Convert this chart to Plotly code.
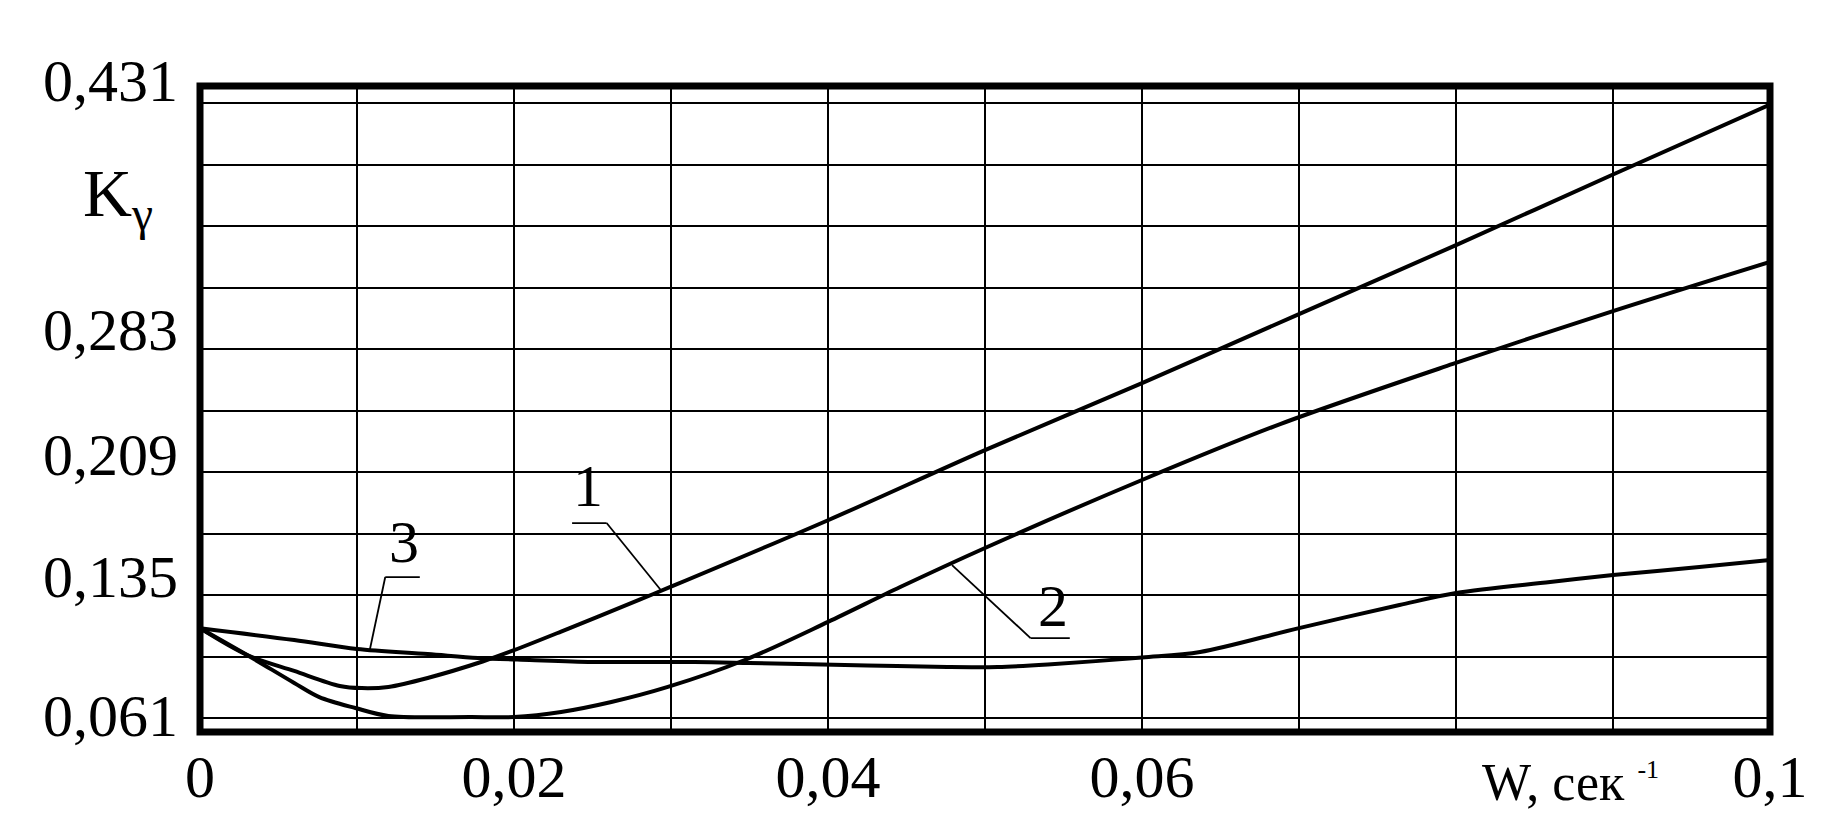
import plotly.graph_objects as go

# ---------------- data ----------------
w1 = [0, 0.003, 0.006, 0.0089, 0.0103, 0.012, 0.0145, 0.018, 0.02, 0.023, 0.028, 0.03,
      0.04, 0.05, 0.06, 0.07, 0.08, 0.09, 0.1]
k1 = [0.115, 0.0989, 0.0893, 0.0803, 0.079, 0.0797, 0.0851, 0.0950, 0.1018, 0.1130, 0.1322, 0.1400,
      0.1800, 0.2222, 0.2625, 0.3040, 0.3455, 0.3880, 0.4300]

w2 = [0, 0.003, 0.006, 0.0076, 0.0099, 0.012, 0.0173, 0.02, 0.023, 0.0262, 0.0298, 0.0347,
      0.04, 0.0446, 0.05, 0.06, 0.0688, 0.0798, 0.0899, 0.1]
k2 = [0.115, 0.0989, 0.0821, 0.0736, 0.067, 0.0622, 0.0616, 0.0616, 0.0646, 0.0706, 0.0797, 0.0959,
      0.1188, 0.1398, 0.1633, 0.2042, 0.2378, 0.2740, 0.3055, 0.3354]

w3 = [0, 0.006, 0.01, 0.0145, 0.0177, 0.021, 0.025, 0.0315, 0.035, 0.0425, 0.0476, 0.0508,
      0.054, 0.06, 0.0637, 0.07, 0.0764, 0.08, 0.086, 0.09, 0.0955, 0.1]
k3 = [0.115, 0.1079, 0.1025, 0.0995, 0.0971, 0.0959, 0.0947, 0.0947, 0.0941, 0.0926, 0.0917, 0.0917,
      0.0932, 0.0974, 0.1007, 0.1151, 0.129, 0.1362, 0.1428, 0.147, 0.1518, 0.1561]

x_tick_vals = [0, 0.02, 0.04, 0.06, 0.1]
x_tick_text = ["0", "0,02", "0,04", "0,06", "0,1"]

y_tick_vals = [0.061, 0.135, 0.209, 0.283, 0.431]
y_tick_text = ["0,061", "0,135", "0,209", "0,283", "0,431"]

# curve callouts: label, label position, underline ends, leader target on curve
callout_labels = ["1", "2", "3"]
callout_text_xy = [(0.0247, 0.1970), (0.0543, 0.1250), (0.0130, 0.1633)]
callout_line_y = [0.1783, 0.1091, 0.1458]
callout_line_x = [(0.0237, 0.0259), (0.0529, 0.0554), (0.0118, 0.0140)]
callout_knee_x = [0.0259, 0.0529, 0.0118]
callout_target = [(0.0294, 0.1374), (0.0479, 0.1530), (0.0108, 0.1013)]

# ---------------- figure ----------------
FONT = "Liberation Serif"
fig = go.Figure()
for w, k, name in [(w1, k1, "1"), (w2, k2, "2"), (w3, k3, "3")]:
    fig.add_trace(go.Scatter(x=w, y=k, mode="lines", name=name,
                             line=dict(color="black", width=4, shape="spline", smoothing=0.9),
                             showlegend=False, hoverinfo="skip"))

y_lo, y_hi = 0.05258, 0.44123

# the page body adds an 8 px offset; margins compensate so the frame sits at 200..1770 x 86..732
fig.update_layout(
    width=1824, height=820,
    margin=dict(l=192, r=62, t=78, b=96),
    paper_bgcolor="white", plot_bgcolor="white",
    font=dict(family=FONT, color="black"),
    xaxis=dict(range=[0, 0.1], tickvals=x_tick_vals, ticktext=x_tick_text, automargin=False,
               showgrid=True, gridcolor="black", gridwidth=2.2, zeroline=False,
               ticks="", tickfont=dict(size=60, family=FONT, color="black"),
               ticklabelstandoff=4,
               minor=dict(dtick=0.01, tick0=0, showgrid=True, gridcolor="black", gridwidth=2.2)),
    yaxis=dict(range=[y_lo, y_hi], tick0=0.061, dtick=0.037, showticklabels=False, automargin=False,
               showgrid=True, gridcolor="black", gridwidth=2.2, zeroline=False, ticks=""),
)

# frame
fig.add_shape(type="rect", xref="paper", yref="paper", x0=0, y0=0, x1=1, y1=1,
              line=dict(color="black", width=7), layer="above")

# y tick labels (drawn slightly above their grid lines as in the original)
y_label_shift = [2, 18, 17, 19, 22]
for v, t, s in zip(y_tick_vals, y_tick_text, y_label_shift):
    fig.add_annotation(x=0, xref="paper", y=v, yref="y", text=t, showarrow=False,
                       xanchor="right", yanchor="middle", xshift=-20, yshift=s,
                       font=dict(size=60, family=FONT, color="black"))

# axis titles
fig.add_annotation(x=-0.0755, xref="paper", y=0.828, yref="paper",
                   text="K<sub>γ</sub>", showarrow=False, xanchor="left", yanchor="middle",
                   font=dict(size=68, family=FONT, color="black"))
fig.add_annotation(x=0.873, xref="paper", y=-0.078, yref="paper",
                   text="W, сек <sup><span style='font-size:26px'>-1</span></sup>",
                   showarrow=False, xanchor="center", yanchor="middle",
                   font=dict(size=52, family=FONT, color="black"))

# callouts
for lab, (tx, ty), ly, (lx0, lx1), kx, (cx, cy) in zip(callout_labels, callout_text_xy, callout_line_y,
                                                       callout_line_x, callout_knee_x, callout_target):
    fig.add_annotation(x=tx, y=ty, text=lab, showarrow=False, xanchor="center", yanchor="middle",
                       yshift=6, font=dict(size=60, family=FONT, color="black"))
    fig.add_shape(type="line", x0=lx0, x1=lx1, y0=ly, y1=ly, line=dict(color="black", width=1.8))
    fig.add_shape(type="line", x0=kx, x1=cx, y0=ly, y1=cy, line=dict(color="black", width=1.8))

fig.write_html("out.html")
